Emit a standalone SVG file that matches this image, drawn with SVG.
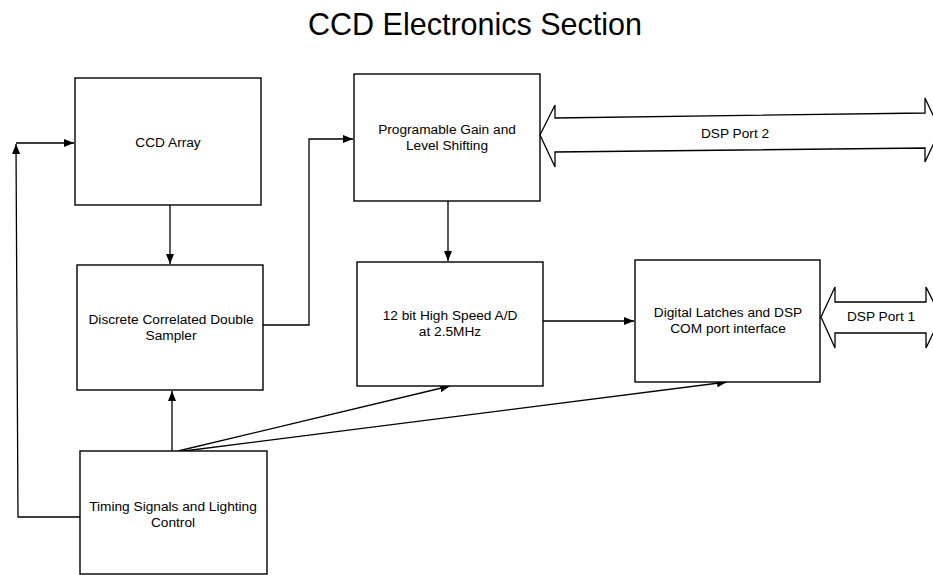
<svg xmlns="http://www.w3.org/2000/svg" width="933" height="575" viewBox="0 0 933 575">
<style>
.box{fill:#fff;stroke:#000;stroke-width:1.4}
.lbl{font-family:"Liberation Sans",Arial,sans-serif;font-size:13.7px;fill:#000;text-anchor:middle}
.title{font-family:"Liberation Sans",Arial,sans-serif;font-size:30.5px;fill:#000;text-anchor:middle}
.con{fill:none;stroke:#000;stroke-width:1.3}
.bus{fill:#fff;stroke:#000;stroke-width:1.3;stroke-linejoin:miter}
</style>
<defs>
<marker id="ah" viewBox="0 0 10 8" refX="10" refY="4" markerWidth="10" markerHeight="8" markerUnits="userSpaceOnUse" orient="auto">
<path d="M0,0 L10,4 L0,8 Z" fill="#000"/>
</marker>
</defs>
<rect width="933" height="575" fill="#fff"/>
<text class="title" x="475" y="35">CCD Electronics Section</text>

<g id="connectors">
<path class="con" d="M170,205 L170,264" marker-end="url(#ah)"/>
<path class="con" d="M263,325 L309,325 L309,139 L353,139" marker-end="url(#ah)"/>
<path class="con" d="M448,201 L448,261" marker-end="url(#ah)"/>
<path class="con" d="M543,321 L634,321" marker-end="url(#ah)"/>
<path class="con" d="M172,451 L172,391" marker-end="url(#ah)"/>
<path class="con" d="M80,517 L18,517 L16,144" marker-end="url(#ah)"/>
<path class="con" d="M16,143 L74,143" marker-end="url(#ah)"/>
<path class="con" d="M178,451 L450,386" marker-end="url(#ah)"/>
<path class="con" d="M184,451 L727,382" marker-end="url(#ah)"/>
</g>

<g id="ccd-array">
<rect class="box" x="75" y="78" width="186" height="127"/>
<text class="lbl" x="168" y="147">CCD Array</text>
</g>

<g id="dcds">
<rect class="box" x="77" y="265" width="186" height="125"/>
<text class="lbl" x="171" y="324">Discrete Correlated Double</text>
<text class="lbl" x="171" y="340">Sampler</text>
</g>

<g id="timing">
<rect class="box" x="80" y="451" width="187" height="123"/>
<text class="lbl" x="173" y="511">Timing Signals and Lighting</text>
<text class="lbl" x="173" y="527">Control</text>
</g>

<g id="pgls">
<rect class="box" x="354" y="74" width="186" height="127"/>
<text class="lbl" x="447" y="134">Programable Gain and</text>
<text class="lbl" x="447" y="150">Level Shifting</text>
</g>

<g id="adc">
<rect class="box" x="357" y="262" width="186" height="124"/>
<text class="lbl" x="450" y="320">12 bit High Speed A/D</text>
<text class="lbl" x="450" y="336">at 2.5MHz</text>
</g>

<g id="latches">
<rect class="box" x="635" y="260" width="185" height="122"/>
<text class="lbl" x="728" y="317">Digital Latches and DSP</text>
<text class="lbl" x="728" y="333">COM port interface</text>
</g>

<g id="dsp-port-2">
<polygon class="bus" points="540,135 555,105 555,118 925,113 925,98 940,130 925,162 925,148 555,152 555,167"/>
<text class="lbl" x="735" y="138">DSP Port 2</text>
</g>

<g id="dsp-port-1">
<polygon class="bus" points="821,317 835,287 835,302 926,302 926,287 941,317 926,348 926,333 835,333 835,348"/>
<text class="lbl" x="881" y="321">DSP Port 1</text>
</g>
</svg>
